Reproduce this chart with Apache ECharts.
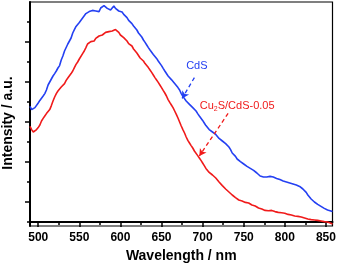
<!DOCTYPE html>
<html><head><meta charset="utf-8">
<script src="https://cdn.jsdelivr.net/npm/echarts@6/dist/echarts.min.js"></script>
<style>html,body{margin:0;padding:0;background:#fff}#c{width:337px;height:268px}</style>
</head><body><div id="c"></div>
<script>
const wavelength = [490,492,494,496,498,500,502,504,506,508,510,512,514,516,518,520,522,524,526,528,530,532,534,536,538,540,542,544,546,548,550,552,554,556,558,560,562,564,566,568,570,572,574,576,578,580,582,584,586,588,590,592,594,596,598,600,602,604,606,608,610,612,614,616,618,620,622,624,626,628,630,632,634,636,638,640,642,644,646,648,650,652,654,656,658,660,662,664,666,668,670,672,674,676,678,680,682,684,686,688,690,692,694,696,698,700,702,704,706,708,710,712,714,716,718,720,722,724,726,728,730,732,734,736,738,740,742,744,746,748,750,752,754,756,758,760,762,764,766,768,770,772,774,776,778,780,782,784,786,788,790,792,794,796,798,800,802,804,806,808,810,812,814,816,818,820,822,824,826,828,830,832,834,836,838,840,842,844,846,848,850,852,854,856,858];
const cds = [5.78,5.62,5.55,5.72,5.8,5.95,6.08,6.02,6.3,6.42,6.6,6.85,6.95,7.15,7.3,7.42,7.55,7.7,7.82,8.1,8.3,8.55,8.62,8.9,9.05,9.2,9.45,9.62,9.78,9.85,9.98,10.02,10.2,10.3,10.42,10.38,10.52,10.45,10.58,10.48,10.55,10.62,10.52,10.7,10.65,10.82,10.72,10.68,10.78,10.6,10.7,10.8,10.68,10.6,10.55,10.45,10.5,10.38,10.3,10.22,10.08,9.98,9.92,9.8,9.72,9.6,9.45,9.35,9.25,9.1,8.98,8.85,8.72,8.6,8.52,8.38,8.3,8.18,8.05,7.95,7.82,7.68,7.55,7.45,7.3,7.2,7.12,7.02,6.92,6.85,6.72,6.6,6.42,6.28,6.18,6.05,5.95,5.88,5.78,5.72,5.62,5.55,5.42,5.3,5.2,5.08,4.95,4.82,4.75,4.62,4.55,4.5,4.42,4.38,4.28,4.18,4.15,4.05,3.98,3.92,3.82,3.75,3.62,3.45,3.35,3.28,3.15,3.08,3.02,2.95,2.9,2.82,2.78,2.72,2.68,2.62,2.58,2.55,2.45,2.38,2.3,2.28,2.25,2.22,2.25,2.2,2.28,2.22,2.25,2.2,2.18,2.2,2.12,2.1,2.05,2.08,2.0,1.98,1.95,1.98,1.9,1.88,1.85,1.8,1.78,1.72,1.65,1.55,1.48,1.35,1.25,1.15,1.08,1.0,0.95,0.88,0.82,0.78,0.72,0.68,0.62,0.6,0.55,0.55,0.52];
const cu2s = [4.78,4.62,4.5,4.55,4.62,4.72,4.85,5.05,5.18,5.3,5.42,5.5,5.62,5.82,6.05,6.25,6.42,6.55,6.6,6.75,6.85,6.92,7.08,7.2,7.3,7.42,7.55,7.72,7.88,8.0,8.15,8.25,8.42,8.55,8.72,8.9,8.95,9.02,9.1,9.05,9.18,9.25,9.3,9.38,9.35,9.42,9.48,9.4,9.52,9.45,9.55,9.48,9.62,9.72,9.48,9.35,9.4,9.22,9.25,9.05,8.92,8.85,8.8,8.65,8.6,8.45,8.35,8.2,8.12,8.05,7.92,7.85,7.72,7.6,7.48,7.35,7.22,7.1,6.98,6.85,6.72,6.58,6.45,6.3,6.12,5.98,5.85,5.72,5.55,5.38,5.2,5.0,4.8,4.62,4.45,4.25,4.08,3.95,3.82,3.7,3.55,3.45,3.32,3.2,3.08,2.95,2.82,2.68,2.58,2.48,2.42,2.35,2.28,2.2,2.1,2.0,1.92,1.82,1.75,1.65,1.58,1.5,1.42,1.35,1.28,1.22,1.15,1.1,1.05,1.05,1.02,0.98,1.0,0.95,0.9,0.85,0.82,0.8,0.75,0.7,0.66,0.65,0.6,0.58,0.55,0.56,0.52,0.58,0.55,0.52,0.5,0.48,0.45,0.46,0.42,0.44,0.4,0.38,0.36,0.35,0.32,0.3,0.3,0.28,0.25,0.25,0.22,0.2,0.18,0.15,0.14,0.12,0.12,0.1,0.08,0.08,0.06,0.05,0.03,0.02,0.0,0.0,-0.04,-0.06,-0.1];
const xMajorTicks = [500,550,600,650,700,750,800,850];
const xMinorTicks = [525,575,625,675,725,775,825];
const yMajorTicks = [1,3,5,7,9];
const yMinorTicks = [0,2,4,6,8,10];
const seriesNames = ['CdS','Cu2S/CdS-0.05'];
const labelCdS = {text:'CdS', pos:[693,7.8], arrowFrom:[690,7.22], arrowTo:[675,6.18]};
const labelCu = {text:'Cu{s|2}S/CdS-0.05', pos:[742,5.8], arrowFrom:[731,5.43], arrowTo:[696,3.3]};

const FONT = 'Liberation Sans, Arial, Helvetica, sans-serif';
const BLUE = '#2440f2', RED = '#f01a1a';
const XMIN = 490, XMAX = 858, YMIN = -0.2, YMAX = 11;

const chart = echarts.init(document.getElementById('c'), null, {renderer:'canvas'});
function pairs(ys){ return wavelength.map((w,i)=>[w, ys[i]]); }

chart.setOption({
  animation:false,
  backgroundColor:'#fff',
  grid:{left:30, right:4.5, top:2, bottom:42, containLabel:false, outerBoundsMode:'none',
        show:true, borderColor:'#000', borderWidth:1.2},
  xAxis:[
    {type:'value', position:'bottom', min:XMIN, max:XMAX,
     axisLine:{show:true, lineStyle:{color:'#000', width:2}},
     axisTick:{show:true, customValues:xMajorTicks, length:5, lineStyle:{color:'#000', width:1.5}},
     axisLabel:{show:true, customValues:xMajorTicks, color:'#000', fontFamily:FONT, fontWeight:'bold', fontSize:12, margin:6},
     splitLine:{show:false},
     name:'Wavelength / nm', nameLocation:'middle', nameGap:21,
     nameTextStyle:{color:'#000', fontFamily:FONT, fontWeight:'bold', fontSize:14}},
    {type:'value', position:'bottom', min:XMIN, max:XMAX,
     axisLine:{show:false},
     axisTick:{show:true, customValues:xMinorTicks, length:3, lineStyle:{color:'#000', width:1.5}},
     axisLabel:{show:false}, splitLine:{show:false}}
  ],
  yAxis:[
    {type:'value', position:'left', min:YMIN, max:YMAX,
     axisLine:{show:true, lineStyle:{color:'#000', width:2}},
     axisTick:{show:true, customValues:yMajorTicks, length:5, lineStyle:{color:'#000', width:1.5}},
     axisLabel:{show:false}, splitLine:{show:false},
     name:'Intensity / a.u.', nameLocation:'middle', nameGap:15, nameRotate:90,
     nameTextStyle:{color:'#000', fontFamily:FONT, fontWeight:'bold', fontSize:14, padding:[0,18,0,0]}},
    {type:'value', position:'left', min:YMIN, max:YMAX,
     axisLine:{show:false},
     axisTick:{show:true, customValues:yMinorTicks, length:3, lineStyle:{color:'#000', width:1.5}},
     axisLabel:{show:false}, splitLine:{show:false}}
  ],
  series:[
    {name:seriesNames[0], type:'line', data:pairs(cds), showSymbol:false, symbol:'none',
     lineStyle:{color:BLUE, width:1.6}, z:3,
     markLine:{silent:true, symbol:['none','arrow'], symbolSize:[6,7],
       lineStyle:{color:BLUE, type:[4,3], width:1.3}, label:{show:false},
       data:[[{coord:labelCdS.arrowFrom},{coord:labelCdS.arrowTo}]]},
     markPoint:{silent:true, symbol:'circle', symbolSize:0,
       label:{show:true, position:'inside', color:BLUE, fontFamily:FONT, fontSize:11, formatter:labelCdS.text},
       data:[{coord:labelCdS.pos}]}},
    {name:seriesNames[1], type:'line', data:pairs(cu2s), showSymbol:false, symbol:'none',
     lineStyle:{color:RED, width:1.6}, z:2,
     markLine:{silent:true, symbol:['none','arrow'], symbolSize:[6,7],
       lineStyle:{color:RED, type:[4,3], width:1.3}, label:{show:false},
       data:[[{coord:labelCu.arrowFrom},{coord:labelCu.arrowTo}]]},
     markPoint:{silent:true, symbol:'circle', symbolSize:0,
       label:{show:true, position:'inside', color:RED, fontFamily:FONT, fontSize:11, formatter:labelCu.text,
         rich:{s:{fontSize:7, color:RED, fontFamily:FONT, padding:[7,0,0,0]}}},
       data:[{coord:labelCu.pos}]}}
  ]
});
</script></body></html>
